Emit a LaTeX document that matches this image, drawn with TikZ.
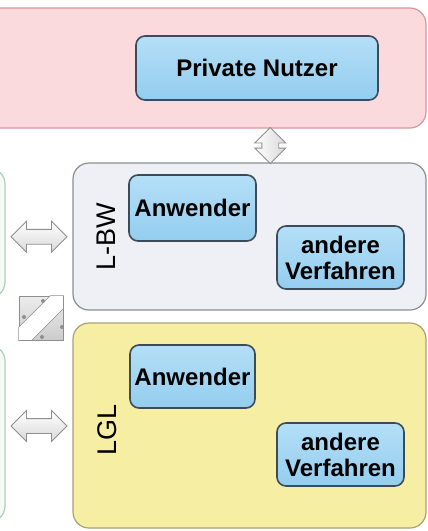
\documentclass[tikz,border=0pt]{standalone}
\usepackage{fontspec}
\setmainfont{Liberation Sans}
\usepackage{xcolor}
\usetikzlibrary{positioning,calc,shapes.arrows}

\definecolor{pinkfill}{HTML}{FBDADD}
\definecolor{pinkline}{HTML}{D8959C}
\definecolor{greyfill}{HTML}{EEF0F5}
\definecolor{greyline}{HTML}{8C8E92}
\definecolor{yellowfill}{HTML}{F6EEA2}
\definecolor{yellowline}{HTML}{A9A274}
\definecolor{greenfill}{HTML}{F5FAF6}
\definecolor{greenline}{HTML}{A6D3B6}
\definecolor{bluetop}{HTML}{B4DFF7}
\definecolor{bluebottom}{HTML}{94CDEE}
\definecolor{blueline}{HTML}{3C4B58}
\definecolor{arrowline}{HTML}{8E8E8E}

\begin{document}
\begin{tikzpicture}[x=1pt,y=-1pt,
  group/.style={rectangle, rounded corners=16pt, line width=1.2pt, inner sep=0pt},
  task/.style={rectangle, rounded corners=9pt, draw=blueline, line width=1.6pt,
    top color=bluetop, bottom color=bluebottom, align=center, inner sep=0pt,
    font=\fontsize{24}{26}\selectfont\bfseries},
  side/.style={rotate=90, inner sep=0pt, font=\fontsize{27}{27}\selectfont},
  link/.style={double arrow, draw=arrowline, line width=0.9pt, inner xsep=0pt, inner ysep=7pt,
    top color=white, bottom color=gray!30, double arrow head extend=8pt}
]

% Page frame
\useasboundingbox (0,0) rectangle (428,531);

% Group boxes
\node[group, fill=pinkfill, draw=pinkline, minimum width=446pt, minimum height=120pt] (priv) at (203,68) {};
\node[group, fill=greyfill, draw=greyline, minimum width=353pt, minimum height=147pt] (lbw) at (249.5,236.5) {};
\node[group, fill=yellowfill, draw=yellowline, minimum width=353pt, minimum height=205pt] (lgl) at (249.5,425.5) {};

% Boxes at the left margin (only their edge is seen)
\node[group, fill=greenfill, draw=greenline, minimum width=60pt, minimum height=130pt] (extA) at (-25,233) {};
\node[group, fill=greenfill, draw=greenline, minimum width=60pt, minimum height=177pt] (extB) at (-25,433.5) {};

% Tasks
\node[task, minimum width=242pt, minimum height=64pt] (nutzer) at (257,68) {Private Nutzer};

\node[task, minimum width=127pt, minimum height=66pt] (lbwAnw) at (192.5,208) {Anwender};
\node[task, minimum width=127pt, minimum height=63pt] (lbwVerf) at (340.5,257.5) {andere\\Verfahren};

\node[task, minimum width=125pt, minimum height=63pt] (lglAnw) at (192.5,376.5) {Anwender};
\node[task, minimum width=127pt, minimum height=63pt] (lglVerf) at (340.5,454.5) {andere\\Verfahren};

% Side labels
\node[side] (lbwName) at (106,237) {L-BW};
\node[side] (lglName) at (107,430) {LGL};

% Block arrows between the groups
\node[link, minimum height=56pt] (linkA) at ($(extA.east)!0.5!(lbw.west)+(0,2)$) {};
\node[link, minimum height=56pt] (linkB) at ($(extB.east)!0.5!(lgl.west)+(0,-3.5)$) {};
\node[link, shape border rotate=90, minimum height=36pt, inner xsep=8pt, inner ysep=0pt,
      double arrow head extend=7pt, left color=white, right color=gray!30]
      (linkC) at ($(priv.south)!0.5!(lbw.north)+(44,0)$) {};

% Crossing symbol
\node[rectangle, draw=arrowline, line width=0.9pt, top color=gray!15, bottom color=gray!40,
      minimum width=44pt, minimum height=44pt, inner sep=0pt] (swap) at (41,318) {};
\filldraw[draw=arrowline, fill=white, line width=0.6pt]
  ($(swap.south west)+(0,-13)$) -- ($(swap.north east)+(-13,0)$) -- (swap.north east)
  -- ($(swap.north east)+(0,13)$) -- ($(swap.south west)+(13,0)$) -- (swap.south west) -- cycle;
\foreach \dx/\dy in {2/-17, -17/-1, 21/9, 1/19}
  \fill[arrowline] ($(swap.center)+(\dx,\dy)$) circle (2pt);

\end{tikzpicture}
\end{document}
